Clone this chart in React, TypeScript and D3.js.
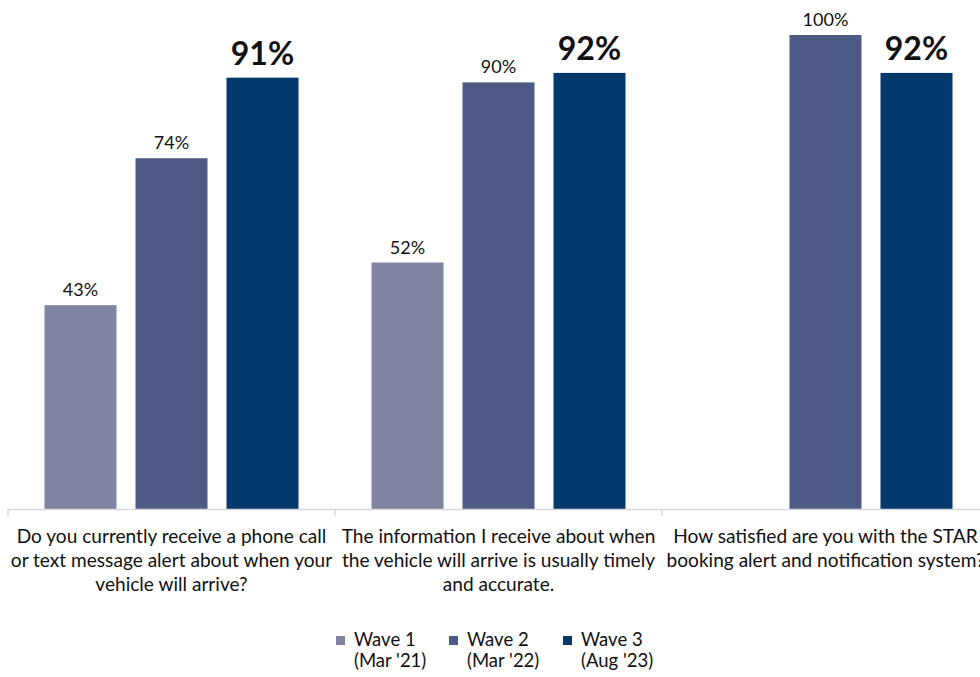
import React from "react";
import * as d3 from "d3";

const categories = [
  ["Do you currently receive a phone call", "or text message alert about when your", "vehicle will arrive?"],
  ["The information I receive about when", "the vehicle will arrive is usually timely", "and accurate."],
  ["How satisfied are you with the STAR", "booking alert and notification system?"],
];
const seriesNames = ["Wave 1", "Wave 2", "Wave 3"];
const seriesDates = ["(Mar '21)", "(Mar '22)", "(Aug '23)"];
const wave1: (number | null)[] = [43, 52, null];
const wave2: (number | null)[] = [74, 90, 100];
const wave3: (number | null)[] = [91, 92, 92];
const colors = ["#7f84a2", "#4e5a86", "#023a6e"];

const W = 980;
const H = 677;
const FONT = "Lato, 'Open Sans', sans-serif";

export default function App() {
  const series = [wave1, wave2, wave3];
  const x0 = d3.scaleBand<number>().domain([0, 1, 2]).range([8, 989]).paddingInner(0).paddingOuter(0);
  const bwGroup = x0.bandwidth();
  const x1 = d3
    .scaleBand<number>()
    .domain([0, 1, 2])
    .range([36.5, bwGroup - 36.5])
    .paddingInner(19 / 91)
    .paddingOuter(0);
  const y = d3.scaleLinear().domain([0, 100]).range([509, 35]);
  const legendX = [336, 449, 563];

  return (
    <div>
      <style>{`body{margin:0}`}</style>
      <svg width={W} height={H} style={{ display: "block", background: "#fff" }} fontFamily={FONT}>
        {categories.map((_, ci) =>
          series.map((s, si) => {
            const v = s[ci];
            if (v == null) return null;
            const bx = (x0(ci) as number) + (x1(si) as number);
            const bw = x1.bandwidth();
            const bold = si === 2;
            return (
              <g key={`${ci}-${si}`}>
                <rect x={bx} y={y(v)} width={bw} height={y(0) - y(v)} fill={colors[si]} />
                <text
                  x={bx + bw / 2}
                  y={y(v) - (bold ? 13 : 9)}
                  textAnchor="middle"
                  fontSize={bold ? 32 : 18}
                  fontWeight={bold ? 700 : 400}
                  fill="#111"
                >
                  {v}%
                </text>
              </g>
            );
          })
        )}
        <line x1={8} x2={W} y1={y(0) + 0.5} y2={y(0) + 0.5} stroke="#d9d9d9" strokeWidth={1.5} />
        {[0, 1, 2, 3].map((i) => {
          const tx = 8 + i * bwGroup;
          return <line key={i} x1={tx} x2={tx} y1={y(0)} y2={y(0) + 7} stroke="#d9d9d9" strokeWidth={1.5} />;
        })}
        {categories.map((lines, ci) => (
          <text
            key={ci}
            x={(x0(ci) as number) + bwGroup / 2}
            textAnchor="middle"
            fontSize={19.1}
            fill="#111"
          >
            {lines.map((l, li) => (
              <tspan key={li} x={(x0(ci) as number) + bwGroup / 2} y={543 + li * 24}>
                {l}
              </tspan>
            ))}
          </text>
        ))}
        {seriesNames.map((n, i) => (
          <g key={n}>
            <rect x={legendX[i]} y={636} width={9} height={9} fill={colors[i]} />
            <text x={legendX[i] + 18} y={646} fontSize={18.5} fill="#111">
              {n}
            </text>
            <text x={legendX[i] + 18} y={667} fontSize={18.5} fill="#111">
              {seriesDates[i]}
            </text>
          </g>
        ))}
      </svg>
    </div>
  );
}
